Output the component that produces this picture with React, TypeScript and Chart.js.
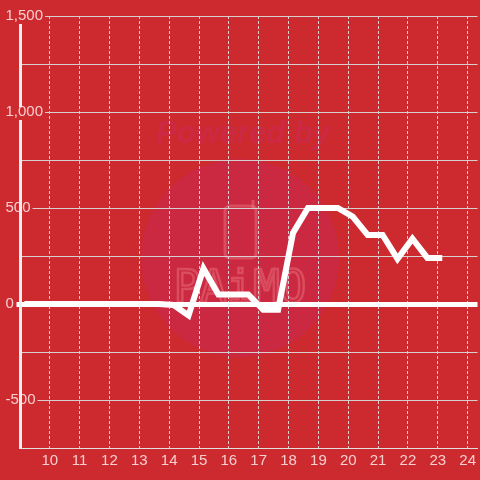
import React, { useEffect, useRef } from "react";
import { Chart, registerables } from "chart.js";

Chart.register(...registerables);

const times = [
  9.15, 9.65, 10.15, 10.65, 11.15, 11.65, 12.15, 12.65, 13.15, 13.65,
  14.15, 14.65, 15.15, 15.65, 16.15, 16.65, 17.15, 17.65, 18.15, 18.65,
  19.15, 19.65, 20.15, 20.65, 21.15, 21.65, 22.15, 22.65, 23.15,
];
const values = [
  0, 0, 0, 0, 0, 0, 0, 0, 0, 0,
  -5, -60, 185, 50, 50, 50, -30, -30, 370, 500,
  500, 500, 455, 360, 360, 235, 340, 240, 240,
];
const xTicks = [10, 11, 12, 13, 14, 15, 16, 17, 18, 19, 20, 21, 22, 23, 24];
const yMin = -750;
const yMax = 1500;
const yStep = 250;
const yLabelStep = 500;

const BG = "#cd2a2f";
const FONT = "'Liberation Sans', Arial, sans-serif";

const backgroundPlugin = {
  id: "bgWatermark",
  beforeDraw(chart: any) {
    const ctx = chart.ctx;
    ctx.save();
    ctx.fillStyle = BG;
    ctx.fillRect(0, 0, chart.width, chart.height);
    ctx.fillStyle = "rgba(200,40,110,0.3)";
    ctx.beginPath();
    ctx.arc(240, 258, 99, 0, Math.PI * 2);
    ctx.fill();
    ctx.fillStyle = "rgba(200,40,110,0.35)";
    ctx.font = "italic bold 31px " + FONT;
    ctx.textAlign = "center";
    ctx.textBaseline = "middle";
    ctx.fillText("Powered by", 243, 134);
    ctx.strokeStyle = "rgba(240,130,140,0.4)";
    ctx.lineWidth = 3;
    ctx.beginPath();
    const px = 225, py = 206, pw = 31, ph = 52, r = 5;
    ctx.moveTo(px + r, py);
    ctx.lineTo(px + pw - r, py);
    ctx.quadraticCurveTo(px + pw, py, px + pw, py + r);
    ctx.lineTo(px + pw, py + ph - r);
    ctx.quadraticCurveTo(px + pw, py + ph, px + pw - r, py + ph);
    ctx.lineTo(px + r, py + ph);
    ctx.quadraticCurveTo(px, py + ph, px, py + ph - r);
    ctx.lineTo(px, py + r);
    ctx.quadraticCurveTo(px, py, px + r, py);
    ctx.stroke();
    ctx.beginPath();
    ctx.moveTo(px + pw - 3, py + 2);
    ctx.lineTo(px + pw - 3, py - 6);
    ctx.stroke();
    ctx.font = "44px 'DejaVu Sans Mono', monospace";
    ctx.lineWidth = 2.5;
    ctx.strokeText("PAiMO", 240, 291);
    ctx.restore();
  },
};

const yBarPlugin = {
  id: "yBar",
  afterDraw(chart: any) {
    const ctx = chart.ctx;
    const y = chart.scales.y;
    const x = chart.chartArea.left;
    const top1 = y.getPixelForValue(1500) + 8;
    const g1 = y.getPixelForValue(1000) - 5;
    const g2 = y.getPixelForValue(1000) + 8;
    const bottom = chart.chartArea.bottom + 1;
    ctx.save();
    ctx.strokeStyle = "#f2eeee";
    ctx.lineWidth = 3;
    ctx.beginPath();
    ctx.moveTo(x, top1);
    ctx.lineTo(x, g1);
    ctx.moveTo(x, g2);
    ctx.lineTo(x, bottom);
    ctx.stroke();
    ctx.restore();
  },
};

export default function App() {
  const ref = useRef<HTMLCanvasElement>(null);

  useEffect(() => {
    if (!ref.current) return;
    const chart = new Chart(ref.current, {
      type: "line",
      data: {
        datasets: [
          {
            data: times.map((t, i) => ({ x: t, y: values[i] })),
            borderColor: "#ffffff",
            borderWidth: 6,
            pointRadius: 0,
            tension: 0,
            fill: false,
            borderJoinStyle: "miter",
          },
        ],
      },
      options: {
        animation: false,
        responsive: false,
        maintainAspectRatio: false,
        layout: { padding: { left: 4, top: 16, right: 0, bottom: 0 } },
        plugins: {
          legend: { display: false },
          tooltip: { enabled: false },
        },
        scales: {
          x: {
            type: "linear",
            min: 9.02,
            max: 24.33,
            afterBuildTicks: (scale: any) => {
              scale.ticks = xTicks.map((v) => ({ value: v }));
            },
            afterFit: (scale: any) => {
              scale.height = 32;
            },
            grid: {
              color: "rgba(225,225,225,0.9)",
              lineWidth: 1,
              drawTicks: false,
            },
            border: {
              display: true,
              color: "rgba(225,225,225,0.9)",
              width: 1,
              dash: [3, 2],
            },
            ticks: {
              color: "rgba(255,235,235,0.85)",
              font: { family: FONT, size: 15 },
              padding: 4,
              autoSkip: false,
              maxRotation: 0,
              callback: (v: any) => String(v),
            },
          },
          y: {
            type: "linear",
            min: yMin,
            max: yMax,
            afterFit: (scale: any) => {
              scale.width = 16.5;
            },
            grid: {
              color: (c: any) =>
                c.tick && c.tick.value === 0 ? "#ffffff" : "rgba(215,215,215,0.95)",
              lineWidth: (c: any) => (c.tick && c.tick.value === 0 ? 5 : 1),
              drawTicks: true,
              tickLength: 4,
              tickColor: (c: any) =>
                c.tick && c.tick.value === 0 ? "#ffffff" : "rgba(0,0,0,0)",
              tickWidth: (c: any) => (c.tick && c.tick.value === 0 ? 5 : 1),
            },
            border: { display: false },
            ticks: {
              stepSize: yStep,
              mirror: true,
              crossAlign: "near",
              padding: -15,
              color: "rgba(255,235,235,0.85)",
              font: { family: FONT, size: 15 },
              showLabelBackdrop: true,
              backdropColor: (c: any) =>
                c.tick && Number(c.tick.value) % yLabelStep === 0 ? BG : "rgba(0,0,0,0)",
              backdropPadding: 2,
              autoSkip: false,
              callback: (v: any) =>
                Number(v) % yLabelStep === 0
                  ? Number(v).toLocaleString("en-US")
                  : "",
            },
          },
        },
      },
      plugins: [backgroundPlugin, yBarPlugin],
    } as any);
    return () => chart.destroy();
  }, []);

  return (
    <div
      style={{
        position: "fixed",
        left: 0,
        top: 0,
        width: 480,
        height: 480,
        background: BG,
      }}
    >
      <canvas ref={ref} width={480} height={480} style={{ display: "block" }} />
    </div>
  );
}
